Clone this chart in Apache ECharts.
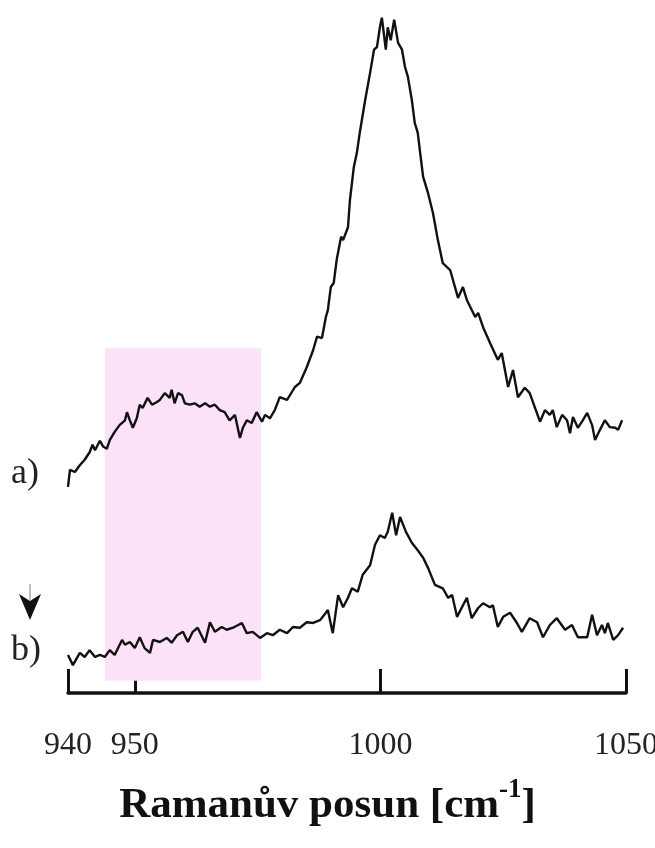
<!DOCTYPE html>
<html>
<head>
<meta charset="utf-8">
<script src="https://cdn.jsdelivr.net/npm/echarts@6/dist/echarts.min.js"></script>
<style>
html,body{margin:0;padding:0;background:#fff;}
#chart{width:655px;height:848px;}
</style>
</head>
<body>
<div id="chart"></div>
<script>
// Raman shift (cm^-1) and relative intensity, spectrum a)
const shiftA = [936.4,936.8,937.8,938.8,939.8,940.8,941.4,941.9,942.9,943.5,944.3,944.9,945.9,946.9,948.0,948.4,949.0,949.6,950.4,951.0,951.6,952.6,953.5,954.5,955.1,956.1,957.1,957.5,958.1,958.8,959.6,960.2,961.2,962.2,963.2,964.3,965.3,966.3,967.3,968.3,969.3,970.4,971.4,972.0,972.8,973.8,974.8,975.9,976.5,977.5,978.5,979.5,981.0,982.6,983.6,985.0,986.3,987.1,988.1,988.9,989.3,989.9,990.5,991.1,992.0,992.4,993.4,993.8,994.6,995.2,995.8,996.9,997.9,998.7,999.3,999.9,1000.3,1001.1,1001.5,1002.1,1002.8,1003.6,1004.4,1005.0,1005.6,1006.4,1007.0,1007.6,1008.1,1008.7,1009.7,1010.7,1011.7,1012.7,1014.2,1015.8,1016.8,1017.6,1019.3,1019.9,1020.9,1022.3,1023.9,1024.7,1026.0,1027.0,1028.0,1029.4,1030.4,1031.5,1032.5,1033.5,1034.5,1035.1,1035.9,1037.0,1038.0,1038.6,1039.2,1040.2,1041.2,1042.1,1043.1,1043.7,1044.7,1045.7,1046.7,1047.8,1048.4,1049.2];
const intensityA = [30.3,32.8,32.5,33.5,34.3,35.4,36.5,35.7,37.1,36.3,35.9,37.2,38.4,39.4,40.1,41.3,40.1,39.0,40.4,42.4,41.9,43.4,42.4,42.8,43.1,44.1,43.4,44.6,42.6,44.1,43.8,42.6,42.4,42.6,42.1,42.6,42.1,42.4,41.6,41.3,40.1,40.9,37.5,39.0,40.1,39.7,41.3,39.9,40.9,40.4,41.6,43.5,43.1,45.0,45.6,47.9,50.4,52.4,52.2,55.3,56.3,59.7,60.3,63.7,67.1,66.6,68.5,72.5,77.4,79.4,82.4,87.2,91.2,94.6,95.0,97.9,99.3,94.6,97.9,96.0,99.0,95.6,94.6,92.1,90.6,87.2,83.8,82.4,79.4,75.9,73.5,70.6,66.6,63.2,62.2,58.1,59.7,57.8,55.3,55.9,53.8,51.5,49.0,50.0,45.0,47.5,43.5,44.9,44.1,41.9,39.9,41.6,40.9,41.6,39.1,40.9,40.1,38.2,40.6,39.0,40.1,41.2,39.4,37.2,38.7,40.1,39.1,39.0,38.7,40.1];

// spectrum b)
const shiftB = [936.4,937.4,938.8,939.8,940.8,941.9,942.9,943.9,944.9,945.9,947.4,948.0,949.0,950.0,951.0,952.0,953.1,953.7,955.1,956.5,957.5,958.6,959.8,960.8,961.8,962.8,964.3,965.3,966.3,967.7,968.7,970.0,971.8,972.8,974.0,975.5,976.9,978.1,979.5,981.0,982.2,983.6,985.0,986.3,987.7,988.7,989.3,990.3,991.4,992.4,993.4,994.2,995.4,996.4,997.9,998.9,999.9,1000.9,1001.5,1002.4,1003.2,1004.0,1005.2,1006.4,1007.6,1008.7,1009.7,1011.1,1012.7,1013.8,1014.6,1015.6,1017.6,1018.6,1019.9,1020.9,1022.3,1022.9,1023.9,1025.0,1026.4,1027.8,1028.8,1030.4,1031.9,1033.1,1034.5,1035.9,1037.6,1039.0,1040.2,1042.1,1043.1,1044.1,1045.1,1045.7,1046.3,1047.4,1048.4,1049.4];
const intensityB = [5.6,4.1,5.9,5.3,6.3,5.3,5.6,5.3,6.3,5.6,7.8,7.1,7.5,6.6,8.2,6.6,5.9,7.8,7.5,8.1,7.4,8.5,9.0,7.5,9.0,9.6,7.4,10.4,9.0,9.7,9.3,9.6,10.3,8.8,9.0,8.1,8.8,8.5,9.3,8.8,9.7,9.6,10.4,10.3,10.7,11.6,12.2,8.8,14.4,12.6,14.0,15.4,14.9,17.4,18.8,21.8,23.2,22.8,23.7,26.5,23.2,25.9,23.7,22.1,21.0,19.9,18.4,15.9,15.4,14.0,14.4,11.2,14.0,11.0,12.5,13.2,12.6,12.9,9.7,11.2,11.8,10.3,9.0,11.0,10.4,8.2,10.0,11.0,9.3,10.0,8.2,8.2,11.5,8.5,10.0,8.8,10.3,7.8,8.5,9.6];

// axis ticks / labels
const xTickValues = [936.4, 950, 1000, 1050];
const xTickLabels = ['940', '950', '1000', '1050'];
const xMin = 936.4, xMax = 1050;

// highlighted region [shift from, shift to] and [intensity from, to]
const regionShift = [943.9, 975.7];
const regionIntensity = [1.8, 50.7];

const seriesLabels = ['a)', 'b)'];
const axisTitle = 'Ramanův posun [cm';
const axisTitleSup = '-1';

const chart = echarts.init(document.getElementById('chart'), null, {renderer: 'canvas'});
const serif = '"Liberation Serif", "DejaVu Serif", serif';

const toPairs = (xs, ys) => xs.map((x, i) => [x, ys[i]]);

chart.setOption({
  animation: false,
  backgroundColor: '#ffffff',
  title: {
    left: 'center',
    top: 770,
    text: '{m|' + axisTitle + '}{s|' + axisTitleSup + '}{m|]}',
    textStyle: {
      rich: {
        m: {fontFamily: serif, fontWeight: 'bold', fontSize: 43, color: '#111', lineHeight: 52, verticalAlign: 'bottom'},
        s: {fontFamily: serif, fontWeight: 'bold', fontSize: 27, color: '#111', lineHeight: 52, verticalAlign: 'top', padding: [2, 0, 0, 0]}
      }
    }
  },
  grid: {left: 68, right: 29, top: 13, bottom: 155, containLabel: false, outerBoundsMode: 'none'},
  xAxis: {
    type: 'value',
    min: xMin,
    max: xMax,
    splitLine: {show: false},
    axisLine: {show: true, onZero: false, lineStyle: {color: '#111', width: 3.5}},
    axisTick: {show: true, inside: true, length: 24, customValues: xTickValues, lineStyle: {color: '#111', width: 3}},
    axisLabel: {
      customValues: xTickValues,
      margin: 37,
      fontFamily: serif,
      fontSize: 32,
      color: '#222',
      hideOverlap: false,
      formatter: function (v) {
        let best = 0;
        for (let i = 1; i < xTickValues.length; i++) {
          if (Math.abs(xTickValues[i] - v) < Math.abs(xTickValues[best] - v)) best = i;
        }
        return xTickLabels[best];
      }
    }
  },
  yAxis: {type: 'value', min: 0, max: 100, show: false},
  series: [
    {
      type: 'line',
      data: toPairs(shiftA, intensityA),
      symbol: 'none',
      lineStyle: {color: '#111', width: 2.4},
      z: 3,
      markArea: {
        silent: true,
        itemStyle: {color: '#fbe2f8'},
        data: [[{xAxis: regionShift[0], yAxis: regionIntensity[0]}, {xAxis: regionShift[1], yAxis: regionIntensity[1]}]],
        z: 1
      }
    },
    {
      type: 'line',
      data: toPairs(shiftB, intensityB),
      symbol: 'none',
      lineStyle: {color: '#111', width: 2.4},
      z: 3
    }
  ],
  graphic: [
    {type: 'text', left: 11, top: 456, style: {text: seriesLabels[0], font: '36px ' + serif, fill: '#222'}},
    {type: 'text', left: 11, top: 633, style: {text: seriesLabels[1], font: '36px ' + serif, fill: '#222'}},
    {type: 'line', shape: {x1: 30, y1: 584, x2: 30, y2: 600}, style: {stroke: '#aaa', lineWidth: 1.5}},
    {type: 'polygon', shape: {points: [[19, 594], [30, 601], [41, 594], [30, 620]]}, style: {fill: '#111'}}
  ]
});
</script>
</body>
</html>
